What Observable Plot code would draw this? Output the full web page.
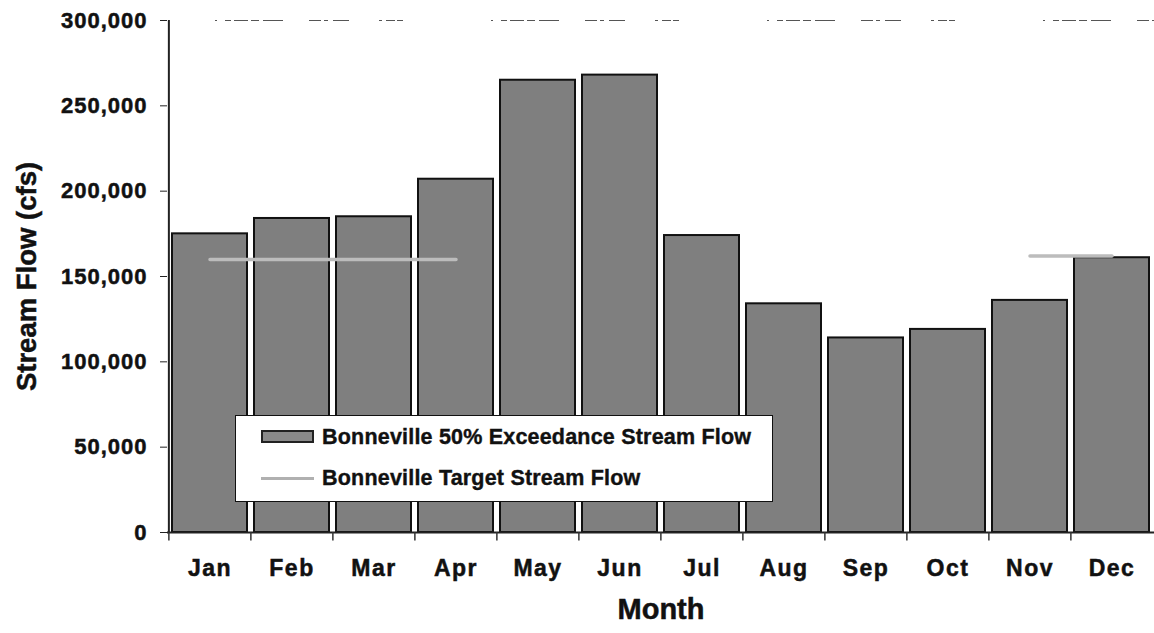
<!DOCTYPE html>
<html>
<head>
<meta charset="utf-8">
<script src="https://cdn.jsdelivr.net/npm/d3@7"></script>
<script src="https://cdn.jsdelivr.net/npm/@observablehq/plot@0.6"></script>
<style>
  html, body { margin: 0; padding: 0; background: #fff; }
  #wrap { position: relative; width: 1154px; height: 633px; overflow: hidden; font-family: "Liberation Sans", Arial, sans-serif; font-weight: bold; }
  #wrap svg text { stroke: #111; stroke-width: 0.5px; }
  #legend { position: absolute; left: 235px; top: 415px; width: 538px; height: 87px; background: #fff; border: 1.5px solid #111; box-sizing: border-box; }
  .row { position: absolute; left: 0; height: 24px; display: flex; align-items: center; font-size: 21.5px; color: #111; white-space: nowrap; -webkit-text-stroke: 0.4px #111; letter-spacing: 0.2px; }
  .sw { position: absolute; left: 25px; width: 53px; }
  .lab { position: absolute; left: 86px; }
</style>
</head>
<body>
<div id="wrap"></div>
<script>
const months = ["Jan","Feb","Mar","Apr","May","Jun","Jul","Aug","Sep","Oct","Nov","Dec"];
const exceedance = [175000,184000,185000,207000,265000,268000,174000,134000,114000,119000,136000,161000];
const target = [160000,160000,160000,160000,null,null,null,null,null,null,162000,162000];
const yTicks = [0,50000,100000,150000,200000,250000,300000];
const seriesNames = ["Bonneville 50% Exceedance Stream Flow","Bonneville Target Stream Flow"];
const xTitle = "Month";
const yTitle = "Stream Flow (cfs)";

const W = 1154, H = 633, mL = 167, mR = 0, mT = 20, mB = 101;
const padInner = 0.085;
const step = (W - mL - mR) / months.length;

const bars = months.map((m, i) => ({month: m, value: exceedance[i]}));
const line = months.map((m, i) => ({month: m, value: target[i]}));

const plot = Plot.plot({
  width: W, height: H,
  marginLeft: mL, marginRight: mR, marginTop: mT, marginBottom: mB,
  style: {fontFamily: "'Liberation Sans', Arial, sans-serif", fontWeight: "bold", color: "#111", background: "#fff", overflow: "visible"},
  x: {type: "band", domain: months, paddingInner: padInner, paddingOuter: padInner / 2, align: 0.5},
  y: {domain: [0, 300000]},
  marks: [
    Plot.barY(bars, {x: "month", y: "value", fill: "#7f7f7f", stroke: "#111", strokeWidth: 2}),
    Plot.ruleY([300000], {stroke: "#555", strokeWidth: 1.2, strokeDasharray: "0,48,2,8,6,3,14,3,8,4,20,26,12,3,4,5,16,30,3,4,9,2,6,40"}),
    Plot.ruleY([0], {stroke: "#222", strokeWidth: 2}),
    Plot.ruleX(["Jan"], {x: d => d, dx: -step / 2, y1: 0, y2: 300000, stroke: "#222", strokeWidth: 2}),
    Plot.ruleX(months, {x: d => d, dx: -step / 2, y1: 0, y2: -5000, stroke: "#333", strokeWidth: 1.5}),
    Plot.line(line, {x: "month", y: "value", stroke: "#bcbcbc", strokeWidth: 3.5}),
    Plot.axisY({ticks: yTicks, tickFormat: d3.format(","), tickSize: 7, tickPadding: 13, fontSize: 22, fontWeight: "bold", label: null, stroke: "#222"}),
    Plot.axisX({tickSize: 0, tickPadding: 27, fontSize: 23, fontWeight: "bold", label: null}),
    Plot.text([xTitle], {frameAnchor: "bottom", dy: 86, fontSize: 29, fontWeight: "bold", fill: "#111"}),
    Plot.text([yTitle], {frameAnchor: "left", textAnchor: "middle", dx: -140, rotate: -90, fontSize: 27.5, fontWeight: "bold", fill: "#111"})
  ]
});

const wrap = document.getElementById("wrap");
wrap.appendChild(plot);
plot.querySelectorAll("g[aria-label='y-axis tick label'] text").forEach(t => t.setAttribute("letter-spacing", "1"));
plot.querySelectorAll("g[aria-label='x-axis tick label'] text").forEach(t => t.setAttribute("letter-spacing", "1.5"));

const legend = document.createElement("div");
legend.id = "legend";
legend.innerHTML = `
  <div class="row" style="top:9px;width:100%"><div class="sw" style="height:13px;background:#8a8a8a;border:2px solid #222;box-sizing:border-box;top:5px"></div><span class="lab">${seriesNames[0]}</span></div>
  <div class="row" style="top:50px;width:100%"><div class="sw" style="height:3px;background:#b0b0b0;top:11px"></div><span class="lab">${seriesNames[1]}</span></div>`;
wrap.appendChild(legend);
</script>
</body>
</html>
